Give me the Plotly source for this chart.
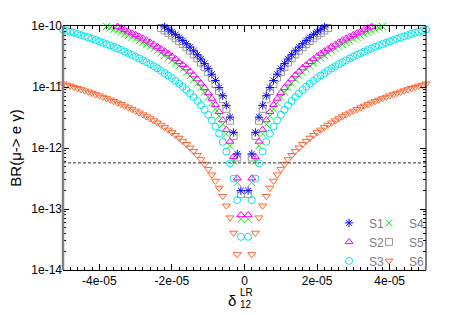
import plotly.graph_objects as go

# delta_12^LR sample points (x values)
DELTA = [
    -5.0e-05, -4.9e-05, -4.8e-05, -4.7e-05, -4.6e-05, -4.5e-05, -4.4e-05, -4.3e-05, -4.2e-05, -4.1e-05,
    -4.0e-05, -3.9e-05, -3.8e-05, -3.7e-05, -3.6e-05, -3.5e-05, -3.4e-05, -3.3e-05, -3.2e-05, -3.1e-05,
    -3.0e-05, -2.9e-05, -2.8e-05, -2.7e-05, -2.6e-05, -2.5e-05, -2.4e-05, -2.3e-05, -2.2e-05, -2.1e-05,
    -2.0e-05, -1.9e-05, -1.8e-05, -1.7e-05, -1.6e-05, -1.5e-05, -1.4e-05, -1.3e-05, -1.2e-05, -1.1e-05,
    -1.0e-05, -9.0e-06, -8.0e-06, -7.0e-06, -6.0e-06, -5.0e-06, -4.0e-06, -3.0e-06, -2.0e-06, -1.0e-06,
    1.0e-06, 2.0e-06, 3.0e-06, 4.0e-06, 5.0e-06, 6.0e-06, 7.0e-06, 8.0e-06, 9.0e-06, 1.0e-05,
    1.1e-05, 1.2e-05, 1.3e-05, 1.4e-05, 1.5e-05, 1.6e-05, 1.7e-05, 1.8e-05, 1.9e-05, 2.0e-05,
    2.1e-05, 2.2e-05, 2.3e-05, 2.4e-05, 2.5e-05, 2.6e-05, 2.7e-05, 2.8e-05, 2.9e-05, 3.0e-05,
    3.1e-05, 3.2e-05, 3.3e-05, 3.4e-05, 3.5e-05, 3.6e-05, 3.7e-05, 3.8e-05, 3.9e-05, 4.0e-05,
    4.1e-05, 4.2e-05, 4.3e-05, 4.4e-05, 4.5e-05, 4.6e-05, 4.7e-05, 4.8e-05, 4.9e-05, 5.0e-05,
]

# BR(mu -> e gamma) per scenario (None = outside the plotted range)
S1 = [None] * 28 + [
    9.68e-11, 8.82e-11, 8.0e-11, 7.22e-11, 6.48e-11, 5.78e-11, 5.12e-11, 4.5e-11, 3.92e-11, 3.38e-11,
    2.88e-11, 2.42e-11, 2.0e-11, 1.62e-11, 1.28e-11, 9.8e-12, 7.2e-12, 5.0e-12, 3.2e-12, 1.8e-12,
    8.0e-13, 2.0e-13,
    2.0e-13, 8.0e-13, 1.8e-12, 3.2e-12, 5.0e-12, 7.2e-12, 9.8e-12, 1.28e-11, 1.62e-11, 2.0e-11,
    2.42e-11, 2.88e-11, 3.38e-11, 3.92e-11, 4.5e-11, 5.12e-11, 5.78e-11, 6.48e-11, 7.22e-11, 8.0e-11,
    8.82e-11, 9.68e-11,
] + [None] * 28

S2 = [None] * 15 + [
    9.8e-11, 9.25e-11, 8.71e-11, 8.19e-11, 7.69e-11, 7.2e-11, 6.73e-11, 6.27e-11, 5.83e-11, 5.41e-11,
    5.0e-11, 4.61e-11, 4.23e-11, 3.87e-11, 3.53e-11, 3.2e-11, 2.89e-11, 2.59e-11, 2.31e-11, 2.05e-11,
    1.8e-11, 1.57e-11, 1.35e-11, 1.15e-11, 9.68e-12, 8.0e-12, 6.48e-12, 5.12e-12, 3.92e-12, 2.88e-12,
    2.0e-12, 1.28e-12, 7.2e-13, 3.2e-13, 8.0e-14,
    8.0e-14, 3.2e-13, 7.2e-13, 1.28e-12, 2.0e-12, 2.88e-12, 3.92e-12, 5.12e-12, 6.48e-12, 8.0e-12,
    9.68e-12, 1.15e-11, 1.35e-11, 1.57e-11, 1.8e-11, 2.05e-11, 2.31e-11, 2.59e-11, 2.89e-11, 3.2e-11,
    3.53e-11, 3.87e-11, 4.23e-11, 4.61e-11, 5.0e-11, 5.41e-11, 5.83e-11, 6.27e-11, 6.73e-11, 7.2e-11,
    7.69e-11, 8.19e-11, 8.71e-11, 9.25e-11, 9.8e-11,
] + [None] * 15

S3 = [
    8.75e-11, 8.4e-11, 8.06e-11, 7.73e-11, 7.41e-11, 7.09e-11, 6.78e-11, 6.47e-11, 6.17e-11, 5.88e-11,
    5.6e-11, 5.32e-11, 5.05e-11, 4.79e-11, 4.54e-11, 4.29e-11, 4.05e-11, 3.81e-11, 3.58e-11, 3.36e-11,
    3.15e-11, 2.94e-11, 2.74e-11, 2.55e-11, 2.37e-11, 2.19e-11, 2.02e-11, 1.85e-11, 1.69e-11, 1.54e-11,
    1.4e-11, 1.26e-11, 1.13e-11, 1.01e-11, 8.96e-12, 7.88e-12, 6.86e-12, 5.92e-12, 5.04e-12, 4.24e-12,
    3.5e-12, 2.84e-12, 2.24e-12, 1.72e-12, 1.26e-12, 8.75e-13, 5.6e-13, 3.15e-13, 1.4e-13, 3.5e-14,
    3.5e-14, 1.4e-13, 3.15e-13, 5.6e-13, 8.75e-13, 1.26e-12, 1.72e-12, 2.24e-12, 2.84e-12, 3.5e-12,
    4.24e-12, 5.04e-12, 5.92e-12, 6.86e-12, 7.88e-12, 8.96e-12, 1.01e-11, 1.13e-11, 1.26e-11, 1.4e-11,
    1.54e-11, 1.69e-11, 1.85e-11, 2.02e-11, 2.19e-11, 2.37e-11, 2.55e-11, 2.74e-11, 2.94e-11, 3.15e-11,
    3.36e-11, 3.58e-11, 3.81e-11, 4.05e-11, 4.29e-11, 4.54e-11, 4.79e-11, 5.05e-11, 5.32e-11, 5.6e-11,
    5.88e-11, 6.17e-11, 6.47e-11, 6.78e-11, 7.09e-11, 7.41e-11, 7.73e-11, 8.06e-11, 8.4e-11, 8.75e-11,
]

S4 = [None] * 12 + [
    9.82e-11, 9.31e-11, 8.81e-11, 8.33e-11, 7.86e-11, 7.41e-11, 6.96e-11, 6.53e-11, 6.12e-11, 5.72e-11,
    5.33e-11, 4.96e-11, 4.6e-11, 4.25e-11, 3.92e-11, 3.6e-11, 3.29e-11, 3.0e-11, 2.72e-11, 2.45e-11,
    2.2e-11, 1.97e-11, 1.74e-11, 1.53e-11, 1.33e-11, 1.15e-11, 9.79e-12, 8.23e-12, 6.8e-12, 5.51e-12,
    4.35e-12, 3.33e-12, 2.45e-12, 1.7e-12, 1.09e-12, 6.12e-13, 2.72e-13, 6.8e-14,
    6.8e-14, 2.72e-13, 6.12e-13, 1.09e-12, 1.7e-12, 2.45e-12, 3.33e-12, 4.35e-12, 5.51e-12, 6.8e-12,
    8.23e-12, 9.79e-12, 1.15e-11, 1.33e-11, 1.53e-11, 1.74e-11, 1.97e-11, 2.2e-11, 2.45e-11, 2.72e-11,
    3.0e-11, 3.29e-11, 3.6e-11, 3.92e-11, 4.25e-11, 4.6e-11, 4.96e-11, 5.33e-11, 5.72e-11, 6.12e-11,
    6.53e-11, 6.96e-11, 7.41e-11, 7.86e-11, 8.33e-11, 8.81e-11, 9.31e-11, 9.82e-11,
] + [None] * 12

S5 = [None] * 27 + [
    9.26e-11, 8.47e-11, 7.72e-11, 7.0e-11, 6.32e-11, 5.67e-11, 5.06e-11, 4.48e-11, 3.94e-11, 3.43e-11,
    2.96e-11, 2.52e-11, 2.12e-11, 1.75e-11, 1.42e-11, 1.12e-11, 8.58e-12, 6.3e-12, 4.38e-12, 2.8e-12,
    1.58e-12, 7.0e-13, 1.75e-13,
    1.75e-13, 7.0e-13, 1.58e-12, 2.8e-12, 4.38e-12, 6.3e-12, 8.58e-12, 1.12e-11, 1.42e-11, 1.75e-11,
    2.12e-11, 2.52e-11, 2.96e-11, 3.43e-11, 3.94e-11, 4.48e-11, 5.06e-11, 5.67e-11, 6.32e-11, 7.0e-11,
    7.72e-11, 8.47e-11, 9.26e-11,
] + [None] * 27

S6 = [
    1.13e-11, 1.08e-11, 1.04e-11, 9.94e-12, 9.52e-12, 9.11e-12, 8.71e-12, 8.32e-12, 7.94e-12, 7.56e-12,
    7.2e-12, 6.84e-12, 6.5e-12, 6.16e-12, 5.83e-12, 5.51e-12, 5.2e-12, 4.9e-12, 4.61e-12, 4.32e-12,
    4.05e-12, 3.78e-12, 3.53e-12, 3.28e-12, 3.04e-12, 2.81e-12, 2.59e-12, 2.38e-12, 2.18e-12, 1.98e-12,
    1.8e-12, 1.62e-12, 1.46e-12, 1.3e-12, 1.15e-12, 1.01e-12, 8.82e-13, 7.61e-13, 6.48e-13, 5.45e-13,
    4.5e-13, 3.65e-13, 2.88e-13, 2.21e-13, 1.62e-13, 1.13e-13, 7.2e-14, 4.05e-14, 1.8e-14, None,
    None, 1.8e-14, 4.05e-14, 7.2e-14, 1.13e-13, 1.62e-13, 2.21e-13, 2.88e-13, 3.65e-13, 4.5e-13,
    5.45e-13, 6.48e-13, 7.61e-13, 8.82e-13, 1.01e-12, 1.15e-12, 1.3e-12, 1.46e-12, 1.62e-12, 1.8e-12,
    1.98e-12, 2.18e-12, 2.38e-12, 2.59e-12, 2.81e-12, 3.04e-12, 3.28e-12, 3.53e-12, 3.78e-12, 4.05e-12,
    4.32e-12, 4.61e-12, 4.9e-12, 5.2e-12, 5.51e-12, 5.83e-12, 6.16e-12, 6.5e-12, 6.84e-12, 7.2e-12,
    7.56e-12, 7.94e-12, 8.32e-12, 8.71e-12, 9.11e-12, 9.52e-12, 9.94e-12, 1.04e-11, 1.08e-11, 1.13e-11,
]

MEG_BOUND = 5.7e-13

X_TICKS = [-4e-05, -2e-05, 0, 2e-05, 4e-05]
X_TICKTEXT = ["-4e-05", "-2e-05", "0", "2e-05", "4e-05"]
Y_TICKS = [1e-14, 1e-13, 1e-12, 1e-11, 1e-10]
Y_TICKTEXT = ["1e-14", "1e-13", "1e-12", "1e-11", "1e-10"]

FONT = "Liberation Sans, Arial, sans-serif"

series = [
    # name, values, symbol, color, size, legend
    ("S6", S6, "triangle-down-open", "#ff6633", 7, "legend2"),
    ("S3", S3, "circle-open", "#00e8ee", 7, "legend"),
    ("S5", S5, "square-open", "#999999", 7, "legend2"),
    ("S4", S4, "x-thin-open", "#11ee11", 7, "legend2"),
    ("S2", S2, "triangle-up-open", "#ff00ff", 7, "legend"),
    ("S1", S1, "asterisk-open", "#1111ff", 7, "legend"),
]
rank = {"S1": 1, "S2": 2, "S3": 3, "S4": 1, "S5": 2, "S6": 3}

fig = go.Figure()
for name, vals, sym, col, size, leg in series:
    fig.add_trace(go.Scatter(
        x=DELTA, y=vals, mode="markers", name=name, legend=leg,
        legendrank=rank[name], cliponaxis=False,
        marker=dict(symbol=sym, size=size, color=col, line=dict(color=col, width=1)),
    ))

fig.add_hline(y=MEG_BOUND, line=dict(color="#333333", width=1, dash="3px,2px"))

# frame: black right side, grey left side
fig.add_shape(type="line", xref="paper", yref="paper", x0=1, x1=1, y0=0, y1=1,
              line=dict(color="black", width=1))
fig.add_shape(type="line", xref="paper", yref="paper", x0=0, x1=0, y0=0, y1=1,
              line=dict(color="#808080", width=2.5))

# x-axis title: delta with stacked super/subscript
fig.add_annotation(text="δ", xref="paper", yref="paper", x=0.483, y=-0.125,
                   xanchor="right", yanchor="middle", showarrow=False,
                   font=dict(family=FONT, size=15, color="black"))
fig.add_annotation(text="LR", xref="paper", yref="paper", x=0.481, y=-0.092,
                   xanchor="left", yanchor="middle", showarrow=False,
                   font=dict(family=FONT, size=10, color="black"))
fig.add_annotation(text="12", xref="paper", yref="paper", x=0.481, y=-0.143,
                   xanchor="left", yanchor="middle", showarrow=False,
                   font=dict(family=FONT, size=10, color="black"))

legend_style = dict(bgcolor="rgba(0,0,0,0)", borderwidth=0,
                    font=dict(family=FONT, size=12, color="#808080"),
                    xanchor="left", yanchor="bottom", itemwidth=30,
                    tracegroupgap=0)

fig.update_layout(
    width=450, height=315,
    margin=dict(l=63, r=24, t=26, b=45),
    paper_bgcolor="white", plot_bgcolor="white",
    font=dict(family=FONT, size=12, color="black"),
    showlegend=True,
    legend=dict(x=0.733, y=-0.022, **legend_style),
    legend2=dict(x=0.843, y=-0.022, **legend_style),
    xaxis=dict(
        range=[-5e-05, 5e-05], tickmode="array", tickvals=X_TICKS, ticktext=X_TICKTEXT,
        ticks="inside", ticklen=6, tickcolor="black", tickwidth=1,
        showline=True, linecolor="black", linewidth=1, mirror="ticks",
        showgrid=False, zeroline=False,
        minor=dict(dtick=2e-06, ticks="inside", ticklen=3, tickcolor="black", showgrid=False),
        tickfont=dict(family=FONT, size=12),
    ),
    yaxis=dict(
        type="log", range=[-14, -10], tickmode="array", tickvals=Y_TICKS, ticktext=Y_TICKTEXT,
        ticks="inside", ticklen=6, tickcolor="black", tickwidth=1,
        showline=False, mirror="ticks",
        showgrid=False, zeroline=False,
        minor=dict(dtick="D1", ticks="inside", ticklen=3, tickcolor="black", showgrid=False),
        tickfont=dict(family=FONT, size=12),
        title=dict(text="BR(μ-> e γ)", font=dict(family=FONT, size=15), standoff=6),
    ),
)

fig.write_html("out.html", config={"displayModeBar": False},
               post_script="document.body.style.margin='0px';")
